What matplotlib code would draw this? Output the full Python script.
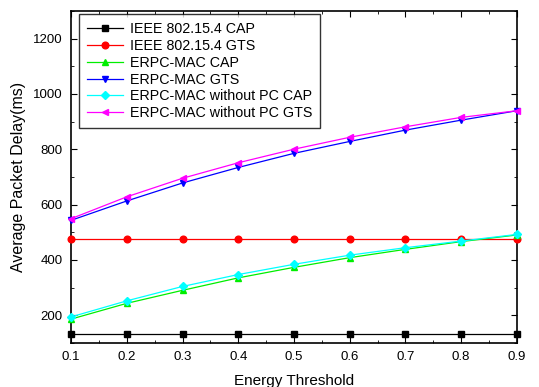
import matplotlib
matplotlib.use("Agg")
import matplotlib.pyplot as plt
from matplotlib.ticker import MultipleLocator

plt.rcParams['font.family'] = ['Liberation Sans', 'DejaVu Sans']

x = [0.1, 0.2, 0.3, 0.4, 0.5, 0.6, 0.7, 0.8, 0.9]

ieee_cap = [133, 133, 133, 133, 133, 133, 133, 133, 133]
ieee_gts = [474, 474, 474, 474, 474, 474, 474, 474, 474]
erpc_cap = [186, 243, 290, 335, 373, 408, 438, 466, 490]
erpc_gts = [543, 613, 678, 734, 785, 828, 869, 905, 939]
erpc_nopc_cap = [194, 252, 304, 347, 384, 417, 444, 468, 492]
erpc_nopc_gts = [549, 628, 695, 751, 800, 843, 881, 915, 939]

series = [
    ("IEEE 802.15.4 CAP", ieee_cap, "black", "s"),
    ("IEEE 802.15.4 GTS", ieee_gts, "red", "o"),
    ("ERPC-MAC CAP", erpc_cap, "#00ee00", "^"),
    ("ERPC-MAC GTS", erpc_gts, "blue", "v"),
    ("ERPC-MAC without PC CAP", erpc_nopc_cap, "cyan", "D"),
    ("ERPC-MAC without PC GTS", erpc_nopc_gts, "magenta", "<"),
]

fig = plt.figure(figsize=(5.39, 3.87), dpi=100)
ax = fig.add_axes([0.132, 0.114, 0.827, 0.858])

for label, vals, color, marker in series:
    ms = 4.2 if marker == "D" else 4.8
    ax.plot(x, vals, color=color, marker=marker, markersize=ms, linewidth=0.9,
            label=label, clip_on=False, zorder=3)

ax.set_xlim(0.1, 0.9)
ax.set_ylim(100, 1300)
ax.xaxis.set_major_locator(MultipleLocator(0.1))
ax.xaxis.set_minor_locator(MultipleLocator(0.05))
ax.yaxis.set_minor_locator(MultipleLocator(100))
ax.set_yticks([200, 400, 600, 800, 1000, 1200])
ax.tick_params(which='both', direction='in', top=True, right=True, labelsize=9.5)
ax.tick_params(which='major', length=4, pad=6)
ax.tick_params(which='minor', length=2.5)
for s in ax.spines.values():
    s.set_linewidth(1.2)

ax.set_xlabel("Energy Threshold", fontsize=11, labelpad=8)
ax.set_ylabel("Average Packet Delay(ms)", fontsize=11.5, labelpad=5)

leg = ax.legend(loc='upper left', bbox_to_anchor=(0.018, 0.99), fontsize=10.3,
                frameon=True, fancybox=False, edgecolor='black',
                handlelength=2.5, labelspacing=0.2, borderpad=0.55, handletextpad=0.5,
                borderaxespad=0.0)
leg.get_frame().set_linewidth(1.0)

fig.savefig("out.png", dpi=100)
